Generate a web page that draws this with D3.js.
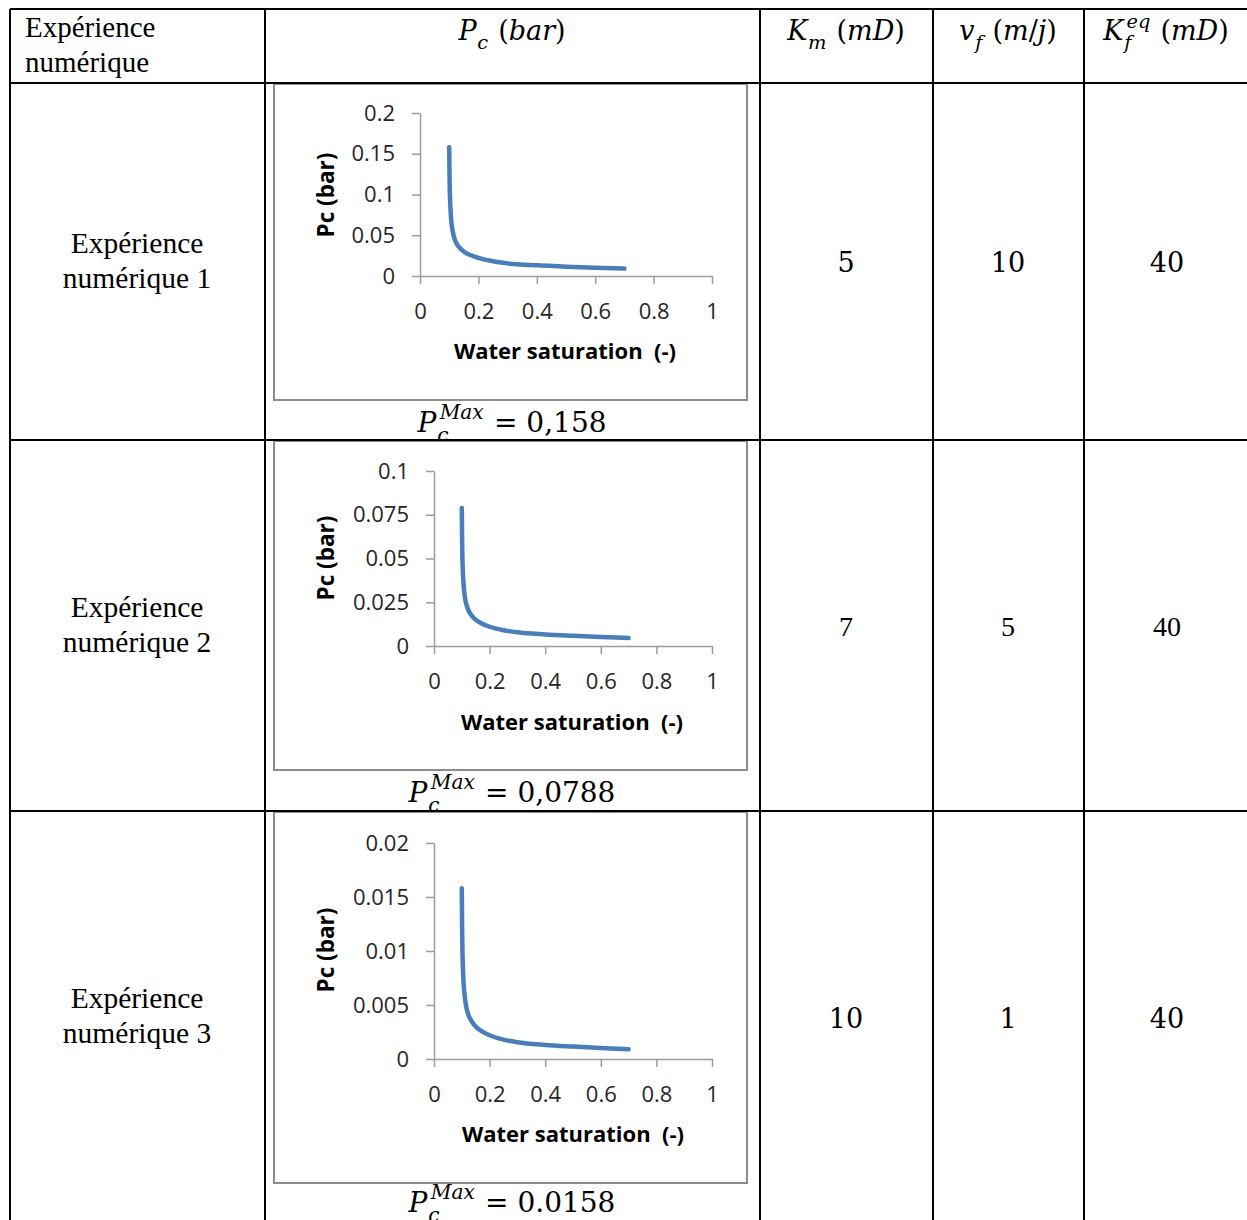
<!DOCTYPE html>
<html>
<head>
<meta charset="utf-8">
<script src="https://cdn.jsdelivr.net/npm/d3@7"></script>
<style>
  body { margin: 0; background: #fff; }
  svg text { white-space: pre; }
</style>
</head>
<body>
<svg id="chart"></svg>
<script>
// table content
var rowLabels = [["Expérience", "numérique 1"], ["Expérience", "numérique 2"], ["Expérience", "numérique 3"]];
var kmValues = ["5", "7", "10"];
var vfValues = ["10", "5", "1"];
var kfValues = ["40", "40", "40"];
var pcMaxLabels = ["0,158", "0,0788", "0.0158"];

// curves
var swValues = [0.1, 0.101, 0.102, 0.104, 0.107, 0.111, 0.117, 0.125, 0.135, 0.15, 0.17, 0.2, 0.25, 0.3, 0.4, 0.5, 0.6, 0.7];
var pc1 = [0.158, 0.125, 0.105, 0.085, 0.068, 0.057, 0.047, 0.040, 0.035, 0.030, 0.026, 0.0222, 0.018, 0.0155, 0.0131, 0.0115, 0.0102, 0.0091];
var pc2 = [0.0788, 0.062, 0.052, 0.042, 0.034, 0.028, 0.0235, 0.020, 0.0175, 0.015, 0.013, 0.011, 0.009, 0.0078, 0.0066, 0.0058, 0.0051, 0.0046];
var pc3 = [0.0158, 0.0125, 0.0105, 0.0085, 0.0068, 0.0057, 0.0047, 0.0040, 0.0035, 0.0030, 0.0026, 0.0022, 0.0018, 0.00155, 0.0013, 0.00115, 0.00102, 0.00091];

var xTicks = [0, 0.2, 0.4, 0.6, 0.8, 1];
var yTicks1 = [0, 0.05, 0.1, 0.15, 0.2];
var yTicks2 = [0, 0.025, 0.05, 0.075, 0.1];
var yTicks3 = [0, 0.005, 0.01, 0.015, 0.02];

function init() {

    var w = 1247;
    var h = 1220;

    var svg = d3.select("#chart")
                .attr("width", w)
                .attr("height", h);

    var colX = [10, 265, 760, 933, 1084, w];
    var rowY = [9, 83, 440, 811, h];

    var mathFont = "'DejaVu Serif', serif";
    var textFont = "'Liberation Serif', serif";
    var chartFont = "'Open Sans', sans-serif";

    // write a small formula, pieces laid out one after the other, centred on cx
    function mathText(cx, baseline, pieces, size) {
        var g = svg.append("g")
                   .style("font-family", mathFont)
                   .style("font-size", size + "px")
                   .attr("fill", "#000");
        var x = 0;
        pieces.forEach(function(p) {
            if (p.sub || p.sup) {
                var wmax = 0;
                if (p.sub) {
                    var ts = g.append("text").attr("x", x + size * 0.03).attr("y", size * 0.34)
                              .style("font-size", (size * 0.72) + "px")
                              .style("font-style", "italic").text(p.sub);
                    wmax = Math.max(wmax, ts.node().getComputedTextLength() + size * 0.03);
                }
                if (p.sup) {
                    var tp = g.append("text").attr("x", x + size * 0.12).attr("y", -size * 0.45)
                              .style("font-size", (size * 0.72) + "px")
                              .style("font-style", "italic").text(p.sup);
                    wmax = Math.max(wmax, tp.node().getComputedTextLength() + size * 0.12);
                }
                x += wmax + size * 0.05;
            } else {
                var t = g.append("text").attr("x", x).attr("y", 0)
                         .style("font-style", p.it ? "italic" : "normal")
                         .text(p.t);
                x += t.node().getComputedTextLength();
            }
        });
        g.attr("transform", "translate(" + (cx - x / 2) + "," + baseline + ")");
    }

    // ---- header ----
    svg.append("text").attr("x", 25).attr("y", 37)
       .style("font-family", textFont).style("font-size", "29px")
       .text("Expérience");
    svg.append("text").attr("x", 25).attr("y", 72)
       .style("font-family", textFont).style("font-size", "29px")
       .text("numérique");

    mathText(512, 40, [{t: "P", it: true}, {sub: "c"}, {t: "\u00a0("}, {t: "bar", it: true}, {t: ")"}], 27);
    mathText(846, 40, [{t: "K", it: true}, {sub: "m"}, {t: "\u00a0("}, {t: "mD", it: true}, {t: ")"}], 27);
    mathText(1008, 40, [{t: "v", it: true}, {sub: "f"}, {t: "\u00a0("}, {t: "m", it: true}, {t: "/"}, {t: "j", it: true}, {t: ")"}], 27);
    mathText(1166, 40, [{t: "K", it: true}, {sub: "f", sup: "eq"}, {t: "\u00a0("}, {t: "mD", it: true}, {t: ")"}], 27);

    // ---- rows ----
    var labelBase = [253, 617, 1008];
    var valueBase = [272, 636, 1028];
    var colMid = [846, 1008, 1167];

    rowLabels.forEach(function(lines, i) {
        lines.forEach(function(line, j) {
            svg.append("text")
               .attr("x", 137).attr("y", labelBase[i] + j * 35)
               .attr("text-anchor", "middle")
               .style("font-family", textFont).style("font-size", "29.5px")
               .text(line);
        });
        [kmValues[i], vfValues[i], kfValues[i]].forEach(function(v, j) {
            svg.append("text")
               .attr("x", colMid[j]).attr("y", valueBase[i])
               .attr("text-anchor", "middle")
               .style("font-family", i === 1 ? textFont : mathFont)
               .style("font-size", i === 1 ? "28px" : "27px")
               .text(v);
        });
    });

    // ---- charts ----
    var charts = [
        {pc: pc1, ticks: yTicks1, frame: [274, 84, 473, 316], plot: [420, 712, 113, 276],
         xTitle: [565, 359], yTitle: [325, 195], pmax: 432},
        {pc: pc2, ticks: yTicks2, frame: [274, 441, 473, 329], plot: [434, 712, 471, 646],
         xTitle: [572, 730], yTitle: [325, 558], pmax: 802},
        {pc: pc3, ticks: yTicks3, frame: [274, 812, 473, 371], plot: [434, 712, 843, 1059],
         xTitle: [573, 1142], yTitle: [325, 950], pmax: 1212}
    ];

    charts.forEach(function(c, i) {
        svg.append("rect")
           .attr("x", c.frame[0]).attr("y", c.frame[1])
           .attr("width", c.frame[2]).attr("height", c.frame[3])
           .attr("fill", "#fff").attr("stroke", "#8c8c8c").attr("stroke-width", 2);

        var x = d3.scaleLinear().domain([0, 1]).range([c.plot[0], c.plot[1]]);
        var y = d3.scaleLinear().domain([0, d3.max(c.ticks)]).range([c.plot[3], c.plot[2]]);

        var xAxis = svg.append("g")
                       .attr("transform", "translate(0," + c.plot[3] + ")")
                       .call(d3.axisBottom(x).tickValues(xTicks).tickSize(8).tickSizeOuter(0)
                               .tickPadding(19).tickFormat(d3.format("~g")));
        var yAxis = svg.append("g")
                       .attr("transform", "translate(" + c.plot[0] + ",0)")
                       .call(d3.axisLeft(y).tickValues(c.ticks).tickSize(8).tickSizeOuter(0)
                               .tickPadding(17).tickFormat(d3.format("~g")));

        [xAxis, yAxis].forEach(function(a) {
            a.selectAll("path, line").attr("stroke", "#9c9c9c").attr("stroke-width", 1.5);
            a.selectAll("text").attr("fill", "#262626")
             .style("font-family", chartFont).style("font-size", "22px");
        });

        var line = d3.line()
                     .x(function(d, k) { return x(swValues[k]); })
                     .y(function(d) { return y(d); })
                     .curve(d3.curveMonotoneX);

        svg.append("path")
           .datum(c.pc)
           .attr("d", line)
           .attr("fill", "none")
           .attr("stroke", "#4a7ebb")
           .attr("stroke-width", 4.5)
           .attr("stroke-linecap", "round");

        svg.append("text")
           .attr("x", c.xTitle[0]).attr("y", c.xTitle[1])
           .attr("text-anchor", "middle")
           .style("font-family", chartFont).style("font-size", "22px").style("font-weight", "bold")
           .text("Water saturation  (-)");

        svg.append("text")
           .attr("transform", "translate(" + c.yTitle[0] + "," + c.yTitle[1] + ") rotate(-90)")
           .attr("text-anchor", "middle")
           .attr("dominant-baseline", "central")
           .style("font-family", chartFont).style("font-size", "22.5px").style("font-weight", "bold")
           .text("Pc (bar)");

        mathText(512, c.pmax, [{t: "P", it: true}, {sub: "c", sup: "Max"}, {t: "\u00a0=\u00a0" + pcMaxLabels[i]}], 28);
    });

    // ---- table rules ----
    svg.append("g").selectAll("line.h")
       .data(rowY.slice(0, 4))
       .enter()
       .append("line")
       .attr("x1", colX[0]).attr("x2", w)
       .attr("y1", function(d) { return d; }).attr("y2", function(d) { return d; })
       .attr("stroke", "#000").attr("stroke-width", 2);

    svg.append("g").selectAll("line.v")
       .data(colX.slice(0, 5))
       .enter()
       .append("line")
       .attr("x1", function(d) { return d; }).attr("x2", function(d) { return d; })
       .attr("y1", rowY[0]).attr("y2", h)
       .attr("stroke", "#000").attr("stroke-width", 2);
}
window.onload = init;
</script>
</body>
</html>
